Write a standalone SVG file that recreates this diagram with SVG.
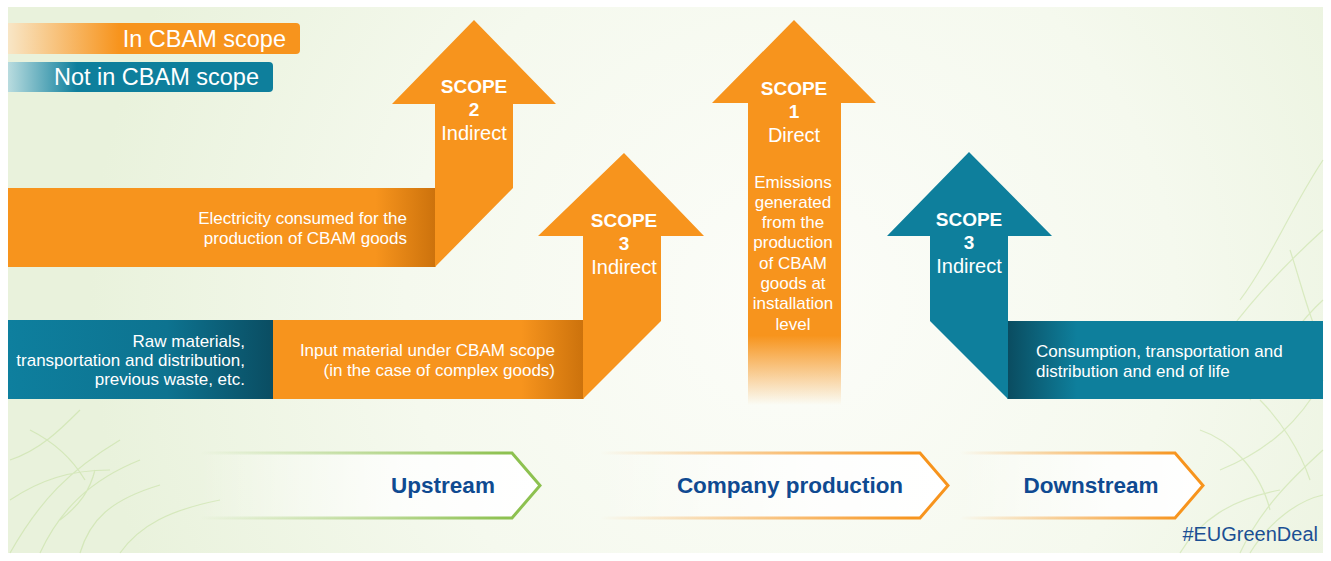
<svg xmlns="http://www.w3.org/2000/svg" width="1331" height="561" viewBox="0 0 1331 561">
<style>
text{font-family:"Liberation Sans",Arial,sans-serif;fill:#fff}
.sc{font-size:19px;font-weight:bold;text-anchor:middle}
.ind{font-size:20px;text-anchor:middle}
.bt{font-size:17px}
.em{font-size:17px;text-anchor:middle}
.leg{font-size:23.5px}
.stage{font-size:22.5px;font-weight:bold;fill:#0f4a91;text-anchor:middle}
.vein{fill:none;stroke:#b7d88a;stroke-width:1.2;opacity:.42}
</style>
<defs>
<radialGradient id="bg" gradientUnits="userSpaceOnUse" cx="790" cy="300" r="700">
<stop offset="0" stop-color="#fcfdf9"/><stop offset="0.55" stop-color="#f5f9ee"/><stop offset="1" stop-color="#e9f2dc"/>
</radialGradient>
<linearGradient id="legO" x1="0" x2="1"><stop offset="0" stop-color="#f8e6c6"/><stop offset="0.38" stop-color="#f7941d"/><stop offset="1" stop-color="#f7941d"/></linearGradient>
<linearGradient id="legT" x1="0" x2="1"><stop offset="0" stop-color="#b9dcdf"/><stop offset="0.26" stop-color="#0e7f9c"/><stop offset="1" stop-color="#0e7f9c"/></linearGradient>
<linearGradient id="barO" x1="0" x2="1"><stop offset="0" stop-color="#f7941d"/><stop offset="0.86" stop-color="#f7941d"/><stop offset="1" stop-color="#cc720c"/></linearGradient>
<linearGradient id="barO2" x1="0" x2="1"><stop offset="0" stop-color="#f7941d"/><stop offset="0.8" stop-color="#f7941d"/><stop offset="1" stop-color="#cc720c"/></linearGradient>
<linearGradient id="barTL" x1="0" x2="1"><stop offset="0" stop-color="#0e7f9e"/><stop offset="0.6" stop-color="#0d7390"/><stop offset="1" stop-color="#0a4d62"/></linearGradient>
<linearGradient id="barTR" x1="0" x2="1"><stop offset="0" stop-color="#0a4c60"/><stop offset="0.22" stop-color="#0e7f9c"/><stop offset="1" stop-color="#0e7f9c"/></linearGradient>
<linearGradient id="s1" gradientUnits="userSpaceOnUse" x1="0" y1="20" x2="0" y2="405"><stop offset="0" stop-color="#f7941d"/><stop offset="0.82" stop-color="#f7941d"/><stop offset="1" stop-color="#f7941d" stop-opacity="0"/></linearGradient>
<linearGradient id="chevFill" x1="0" x2="1"><stop offset="0" stop-color="#fff" stop-opacity="0"/><stop offset="0.6" stop-color="#fff" stop-opacity="0.8"/><stop offset="1" stop-color="#fff"/></linearGradient>
<linearGradient id="chevG" x1="0" x2="1"><stop offset="0" stop-color="#8dc150" stop-opacity="0"/><stop offset="0.55" stop-color="#8dc150" stop-opacity="0.6"/><stop offset="0.9" stop-color="#8dc150"/></linearGradient>
<linearGradient id="chevO" x1="0" x2="1"><stop offset="0" stop-color="#f7941d" stop-opacity="0"/><stop offset="0.55" stop-color="#f7941d" stop-opacity="0.6"/><stop offset="0.9" stop-color="#f7941d"/></linearGradient>
</defs>

<rect x="0" y="0" width="1331" height="561" fill="#fff"/>
<rect x="8" y="7" width="1315" height="546" fill="url(#bg)"/>

<g id="veins">
<path class="vein" d="M10,553 C40,500 70,470 120,440 M40,553 C60,510 90,480 140,460 M10,500 C40,480 70,470 110,470 M80,553 C90,520 110,500 160,485 M10,460 C40,450 60,430 80,410 M120,553 C140,525 170,510 220,500 M60,520 C80,505 90,490 95,470 M30,430 C50,440 70,455 85,480"/>
<path class="vein" d="M1323,160 C1290,210 1270,260 1240,300 M1323,230 C1290,260 1260,290 1230,330 M1323,300 C1290,330 1270,370 1250,400 M1323,380 C1300,420 1270,450 1220,470 M1323,450 C1290,480 1260,510 1240,553 M1180,553 C1200,520 1230,500 1280,490 M1250,553 C1270,520 1300,500 1323,495 M1200,430 C1230,440 1260,470 1270,510 M1260,400 C1280,420 1300,450 1310,480 M1290,250 C1300,280 1310,320 1320,340"/>
</g>

<g id="legend">
<path d="M8,23 H296 Q300,23 300,27 V50 Q300,54 296,54 H8 Z" fill="url(#legO)"/>
<text class="leg" x="286" y="46.5" text-anchor="end">In CBAM scope</text>
<path d="M8,62 H269 Q273,62 273,66 V88 Q273,92 269,92 H8 Z" fill="url(#legT)"/>
<text class="leg" x="259" y="85" text-anchor="end">Not in CBAM scope</text>
</g>

<g id="scope2">
<rect x="8" y="188" width="427.5" height="79" fill="url(#barO)"/>
<path d="M474,20 L556,104 L513,104 L513,188 L435,267 L435,104 L392,104 Z" fill="#f7941d"/>
<text class="sc" x="474" y="93">SCOPE</text>
<text class="sc" x="474" y="116">2</text>
<text class="ind" x="474" y="140">Indirect</text>
<text class="bt" x="407" y="224" text-anchor="end">Electricity consumed for the</text>
<text class="bt" x="407" y="244" text-anchor="end">production of CBAM goods</text>
</g>

<g id="raw-materials">
<rect x="8" y="320" width="265" height="79" fill="url(#barTL)"/>
<text class="bt" x="245" y="347" text-anchor="end">Raw materials,</text>
<text class="bt" x="245" y="366" text-anchor="end">transportation and distribution,</text>
<text class="bt" x="245" y="385" text-anchor="end">previous waste, etc.</text>
</g>

<g id="scope3-up">
<rect x="273" y="320" width="310.5" height="79" fill="url(#barO2)"/>
<path d="M624,153 L704,236 L661,236 L661,321 L583,399 L583,236 L538,236 Z" fill="#f7941d"/>
<text class="sc" x="624" y="227">SCOPE</text>
<text class="sc" x="624" y="250">3</text>
<text class="ind" x="624" y="274">Indirect</text>
<text class="bt" x="555" y="356" text-anchor="end">Input material under CBAM scope</text>
<text class="bt" x="555" y="376" text-anchor="end">(in the case of complex goods)</text>
</g>

<g id="scope1">
<path d="M794,20 L876,103 L841,103 L841,405 L748,405 L748,103 L712,103 Z" fill="url(#s1)"/>
<text class="sc" x="794" y="95">SCOPE</text>
<text class="sc" x="794" y="118">1</text>
<text class="ind" x="794" y="142">Direct</text>
<text class="em" x="793" y="188">Emissions</text>
<text class="em" x="793" y="208">generated</text>
<text class="em" x="793" y="228">from the</text>
<text class="em" x="793" y="248">production</text>
<text class="em" x="793" y="269">of CBAM</text>
<text class="em" x="793" y="289">goods at</text>
<text class="em" x="793" y="309">installation</text>
<text class="em" x="793" y="330">level</text>
</g>

<g id="scope3-down">
<rect x="1007.5" y="321" width="315.5" height="78" fill="url(#barTR)"/>
<path d="M969,152 L1052,236 L1008,236 L1008,399 L930,321 L930,236 L887,236 Z" fill="#0e7f9c"/>
<text class="sc" x="969" y="226">SCOPE</text>
<text class="sc" x="969" y="249">3</text>
<text class="ind" x="969" y="273">Indirect</text>
<text class="bt" x="1036" y="357">Consumption, transportation and</text>
<text class="bt" x="1036" y="377">distribution and end of life</text>
</g>

<g id="connectors">
<g id="upstream">
<path d="M200,453 L512,453 L540,485.5 L512,518 L200,518" fill="url(#chevFill)" stroke="url(#chevG)" stroke-width="3"/>
<text class="stage" x="443" y="493">Upstream</text>
</g>
<g id="company-production">
<path d="M600,453 L920,453 L948,485.5 L920,518 L600,518" fill="url(#chevFill)" stroke="url(#chevO)" stroke-width="3"/>
<text class="stage" x="790" y="493">Company production</text>
</g>
<g id="downstream">
<path d="M960,453 L1175,453 L1203,485.5 L1175,518 L960,518" fill="url(#chevFill)" stroke="url(#chevO)" stroke-width="3"/>
<text class="stage" x="1091" y="493">Downstream</text>
</g>
</g>

<text x="1318" y="541" font-size="20" text-anchor="end" style="fill:#1b4f93">#EUGreenDeal</text>
</svg>
